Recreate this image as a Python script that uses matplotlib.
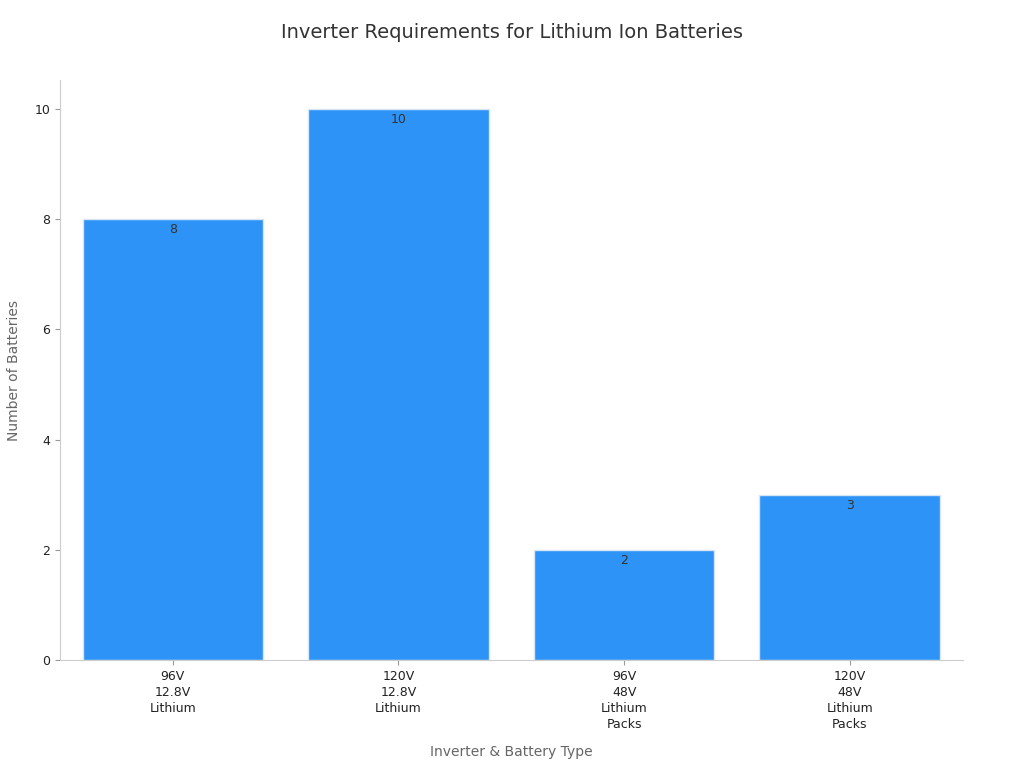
import matplotlib
matplotlib.use("Agg")
import matplotlib.pyplot as plt

categories = ["96V\n12.8V\nLithium", "120V\n12.8V\nLithium", "96V\n48V\nLithium\nPacks", "120V\n48V\nLithium\nPacks"]
values = [8, 10, 2, 3]

fig = plt.figure(figsize=(10.24, 7.68), dpi=100)
ax = fig.add_axes([0.0586, 0.1406, 0.8814, 0.755])
x = list(range(len(values)))
bars = ax.bar(x, values, width=0.80, color="#2E93F7", edgecolor="#D6E6F5", linewidth=1)
for xi, v in zip(x, values):
    ax.text(xi, v - 0.08, str(v), ha="center", va="top", fontsize=9, color="#333333")
ax.set_xlim(-0.5, 3.5)
ax.set_ylim(0, 10.52)
ax.set_xticks(x)
ax.set_xticklabels(categories, fontsize=9, color="#222222", linespacing=1.3)
ax.set_yticks([0, 2, 4, 6, 8, 10])
ax.tick_params(axis="y", labelsize=9, colors="#222222")
ax.tick_params(axis="both", color="#999999")
for s in ["top", "right"]:
    ax.spines[s].set_visible(False)
for s in ["left", "bottom"]:
    ax.spines[s].set_color("#CCCCCC")
ax.set_xlabel("Inverter & Battery Type", fontsize=10, color="#666666", labelpad=10)
ax.set_ylabel("Number of Batteries", fontsize=10, color="#666666", labelpad=10)
fig.suptitle("Inverter Requirements for Lithium Ion Batteries", y=0.97, fontsize=14, color="#333333")
fig.savefig("out.png", dpi=100)
